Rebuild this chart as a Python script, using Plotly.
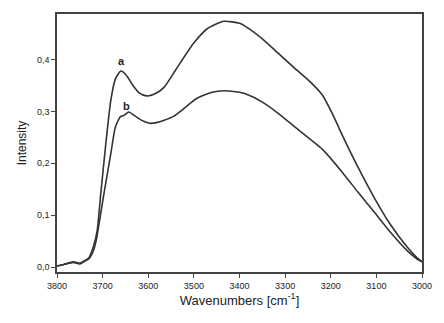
import plotly.graph_objects as go

# IR spectra in the OH stretching region, two samples (a, b)
wavenumber_a = [3800, 3785, 3764, 3750, 3740, 3730, 3720, 3712, 3704, 3693, 3682, 3672,
                3660, 3648, 3635, 3620, 3604, 3585, 3565, 3540, 3501, 3470, 3434, 3400,
                3387, 3350, 3316, 3280, 3245, 3217, 3195, 3174, 3140, 3103, 3070, 3032,
                3010, 3000]
intensity_a = [0.002, 0.005, 0.010, 0.007, 0.012, 0.018, 0.040, 0.070, 0.142, 0.238, 0.322, 0.363,
               0.378, 0.370, 0.352, 0.336, 0.330, 0.334, 0.347, 0.380, 0.431, 0.460, 0.474, 0.470,
               0.464, 0.440, 0.413, 0.384, 0.357, 0.330, 0.293, 0.253, 0.192, 0.131, 0.083, 0.038,
               0.017, 0.010]

wavenumber_b = [3800, 3785, 3764, 3750, 3740, 3730, 3720, 3714, 3697, 3682, 3672, 3661,
                3652, 3643, 3630, 3610, 3594, 3580, 3565, 3544, 3520, 3494, 3460, 3434,
                3400, 3387, 3350, 3316, 3270, 3217, 3174, 3140, 3103, 3070, 3032, 3010, 3000]
intensity_b = [0.002, 0.005, 0.009, 0.006, 0.011, 0.016, 0.032, 0.052, 0.142, 0.219, 0.270, 0.290,
               0.293, 0.299, 0.292, 0.281, 0.277, 0.279, 0.283, 0.291, 0.307, 0.325, 0.337, 0.340,
               0.337, 0.334, 0.318, 0.297, 0.264, 0.226, 0.182, 0.144, 0.104, 0.068, 0.031,
               0.015, 0.010]

x_ticks = [3800, 3700, 3600, 3500, 3400, 3300, 3200, 3100, 3000]
y_ticks = [0.0, 0.1, 0.2, 0.3, 0.4]

line_color = "#333333"
font_family = "Liberation Sans, Arial, sans-serif"

fig = go.Figure()
for wn, inten in [(wavenumber_a, intensity_a), (wavenumber_b, intensity_b)]:
    fig.add_trace(go.Scatter(
        x=wn, y=inten, mode="lines",
        line=dict(color=line_color, width=1.6, shape="spline", smoothing=0.6),
        showlegend=False, hoverinfo="skip",
    ))

fig.add_annotation(x=3659, y=0.397, text="<b>a</b>", showarrow=False,
                   font=dict(family=font_family, size=11, color="#222"))
fig.add_annotation(x=3647, y=0.311, text="<b>b</b>", showarrow=False,
                   font=dict(family=font_family, size=11, color="#222"))

axis_common = dict(
    showgrid=False, zeroline=False, showline=True, linecolor="#444", linewidth=1.5,
    mirror=True, ticks="outside", ticklen=4, tickwidth=1.2, tickcolor="#444",
    tickfont=dict(family=font_family, size=9, color="#222"),
)

fig.update_layout(
    width=444, height=323,
    margin=dict(l=57, r=13, t=13, b=51),
    paper_bgcolor="white", plot_bgcolor="white",
    separators=",.",
    xaxis=dict(range=[3800, 3000], tickvals=x_ticks, tickformat="d",
               title=dict(text="Wavenumbers [cm<sup>-1</sup>]", standoff=6,
                          font=dict(family=font_family, size=13, color="#222")),
               **axis_common),
    yaxis=dict(range=[-0.0096, 0.488], tickvals=y_ticks, tickformat=".1f",
               title=dict(text="Intensity", standoff=8,
                          font=dict(family=font_family, size=12, color="#222")),
               **axis_common),
)

fig.write_html("out.html")
